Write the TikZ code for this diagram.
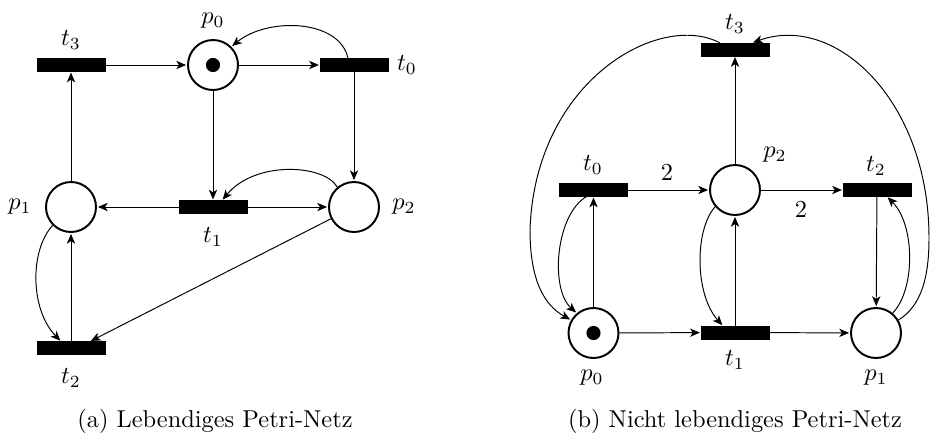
\documentclass[tikz,border=0pt]{standalone}
\usetikzlibrary{arrows.meta,calc}
\begin{document}
\begin{tikzpicture}[x=0.41pt,y=-0.41pt,
  place/.style={circle,draw,line width=0.8pt,minimum size=20.5pt,inner sep=0pt},
  trans/.style={rectangle,fill=black,draw=black,line width=0.2pt,minimum width=27.8pt,minimum height=5.2pt,inner sep=0pt},
  token/.style={circle,fill=black,minimum size=5.8pt,inner sep=0pt},
  arc/.style={-{Stealth[length=4pt,width=3.4pt,inset=1.1pt]},line width=0.4pt,shorten >=0.4pt},
  lab/.style={inner sep=1pt}]
\useasboundingbox (0,0) rectangle (931,434);
% ---------- (a) ----------
\node[trans] (Lt3) at (71,65) {};
\node[place] (Lp0) at (213,65) {};
\node[token] (Lk0) at (213,65) {};
\node[trans] (Lt0) at (354,65) {};
\node[place] (Lp1) at (71,207) {};
\node[trans] (Lt1) at (213,207) {};
\node[place] (Lp2) at (354,207) {};
\node[trans] (Lt2) at (71,348) {};
\node[lab] (Llt3) at (71,40) {$t_3$};
\node[lab] (Llp0) at (213,21) {$p_0$};
\node[lab] (Llt0) at (407,65) {$t_0$};
\node[lab] (Llp1) at (20,207) {$p_1$};
\node[lab] (Llp2) at (404,207) {$p_2$};
\node[lab] (Llt1) at (213,237) {$t_1$};
\node[lab] (Llt2) at (71,378) {$t_2$};
\draw[arc] (Lt3) -- (Lp0);
\draw[arc] (Lp0) -- (Lt0);
\draw[arc] (Lt0) -- (Lp2);
\draw[arc] (Lp0) -- (Lt1);
\draw[arc] (Lt1) -- (Lp1);
\draw[arc] (Lt1) -- (Lp2);
\draw[arc] (Lp1) -- (Lt3);
\draw[arc] (Lt2) -- (Lp1);
\draw[arc] (Lp2) -- ($(Lt2.north)+(19,0)$);
\draw[arc] ($(Lt0.north)+(-6,0)$) .. controls +(-8,-39) and +(37,-30) .. (Lp0.45);
\draw[arc] (Lp2.130) .. controls +(-13,-23) and +(33,-40) .. ($(Lt1.north)+(9,0)$);
\draw[arc] (Lp1.225) .. controls +(-23,25) and +(-31,-32) .. ($(Lt2.north)+(-10,0)$);
\node (capa) at (215,421) {(a) Lebendiges Petri-Netz};
% ---------- (b) ----------
\node[trans] (Rt3) at (735,49.5) {};
\node[trans] (Rt0) at (593.5,190) {};
\node[place] (Rp2) at (735,190) {};
\node[trans] (Rt2) at (877,190) {};
\node[place] (Rp0) at (593.5,333) {};
\node[token] (Rk0) at (593.5,333) {};
\node[trans] (Rt1) at (735,332.5) {};
\node[place] (Rp1) at (876,333) {};
\node[lab] (Rlt3) at (735,24) {$t_3$};
\node[lab] (Rlt0) at (593,165) {$t_0$};
\node[lab] (Rlp2) at (775,155) {$p_2$};
\node[lab] (Rlt2) at (876,166) {$t_2$};
\node[lab] (Rlt1) at (735,360) {$t_1$};
\node[lab] (Rlp0) at (592,378) {$p_0$};
\node[lab] (Rlp1) at (876,378) {$p_1$};
\node[lab] (Rw1) at (667,173) {$2$};
\node[lab] (Rw2) at (801,210) {$2$};
\coordinate (Rl) at (530,230);
\coordinate (Rr) at (929,238);
\draw[arc] (Rt0) -- (Rp2);
\draw[arc] (Rp2) -- (Rt2);
\draw[arc] (Rp2) -- (Rt3);
\draw[arc] (Rt1) -- (Rp2);
\draw[arc] (Rp0) -- (Rt0);
\draw[arc] (Rt2) -- (Rp1);
\draw[arc] (Rp0) -- (Rt1);
\draw[arc] (Rt1) -- (Rp1);
\draw[arc] ($(Rt0.south)+(-7,0)$) .. controls +(-31,18) and +(-27,-24) .. (Rp0.130);
\draw[arc] (Rp2.220) .. controls +(-21,24) and +(-28,-31) .. ($(Rt1.north)+(-12,0)$);
\draw[arc] (Rp1.50) .. controls +(23,-24) and +(28,28) .. ($(Rt2.south)+(10,0)$);
\draw[arc] ($(Rt3.north)+(-15,0)$) .. controls +(-60,-32) and (535,80) .. (Rl)
  .. controls (530,280) and +(-27,-15) .. (Rp0.150);
\draw[arc] (Rp1.30) .. controls +(24,-15) and (929,275) .. (Rr)
  .. controls (929,100) and +(83,-30) .. ($(Rt3.north)+(17,0)$);
\node (capb) at (735,421) {(b) Nicht lebendiges Petri-Netz};
\end{tikzpicture}
\end{document}
